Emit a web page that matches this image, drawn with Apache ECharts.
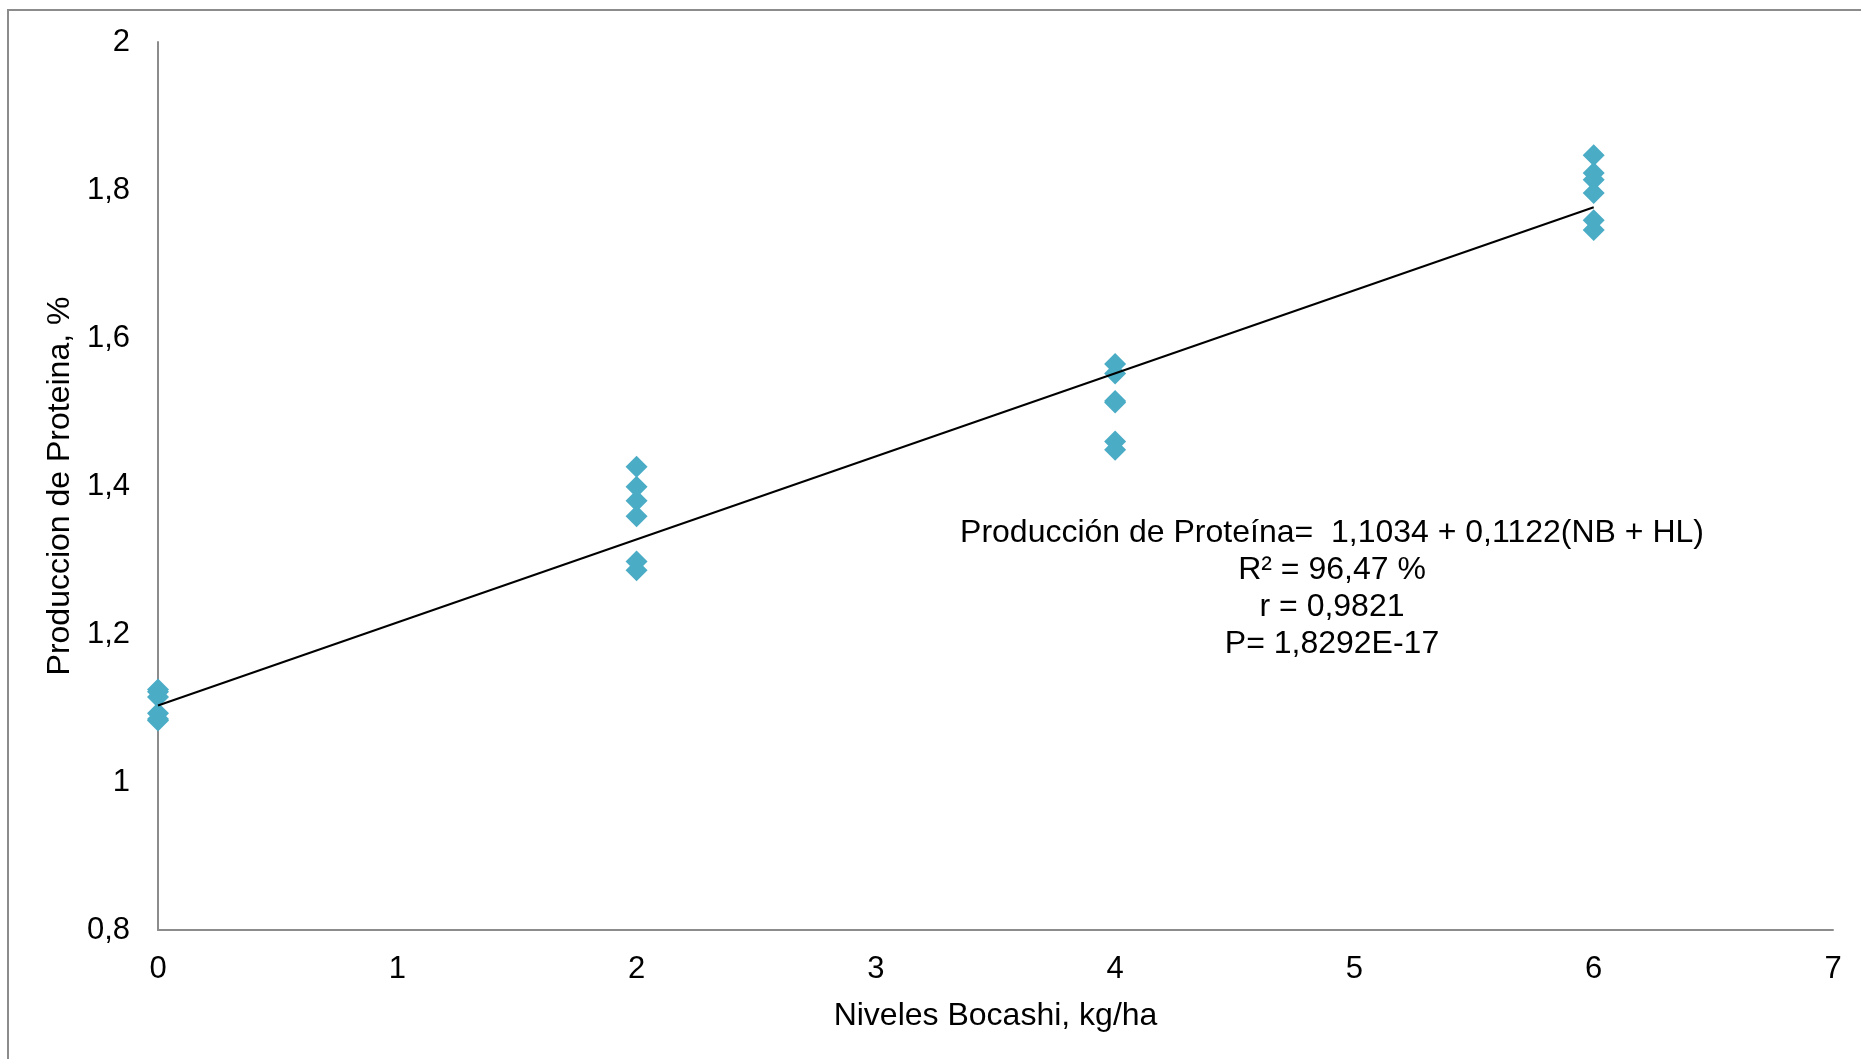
<!DOCTYPE html>
<html>
<head>
<meta charset="utf-8">
<script src="https://cdn.jsdelivr.net/npm/echarts@6/dist/echarts.min.js"></script>
<style>
  html, body { margin: 0; padding: 0; background: #fff; }
  #chart { width: 1861px; height: 1059px; }
</style>
</head>
<body>
<div id="chart"></div>
<script>
// niveles de bocashi y proteina observada
let nivelesX = [0, 0, 0, 0, 0, 0,
	2, 2, 2, 2, 2, 2,
	4, 4, 4, 4, 4, 4,
	6, 6, 6, 6, 6, 6];
let proteinaY = [1.125, 1.122, 1.115, 1.093, 1.085, 1.083,
	1.426, 1.399, 1.380, 1.359, 1.298, 1.286,
	1.565, 1.552, 1.515, 1.513, 1.460, 1.449,
	1.847, 1.823, 1.814, 1.796, 1.759, 1.746];

// recta de regresion
let intercepto = 1.1034;
let pendiente = 0.1122;
let rectaX = [0, 6];

let anotacion = [
	"Producción de Proteína=  1,1034 + 0,1122(NB + HL)",
	"R² = 96,47 %",
	"r = 0,9821",
	"P= 1,8292E-17"
];

let puntos = nivelesX.map(function(x, i) { return [x, proteinaY[i]]; });
let recta = rectaX.map(function(x) { return [x, intercepto + pendiente * x]; });

let fuente = "Liberation Sans, Arial, sans-serif";
let chart = echarts.init(document.getElementById("chart"));

chart.setOption({
	animation: false,
	backgroundColor: "#fff",
	grid: { left: 158, top: 42, right: 28, bottom: 129 },
	xAxis: {
		type: "value",
		min: 0, max: 7, interval: 1,
		name: "Niveles Bocashi, kg/ha",
		nameLocation: "middle",
		nameGap: 70,
		nameTextStyle: { fontFamily: fuente, fontSize: 32, color: "#000" },
		axisLine: { onZero: false, lineStyle: { color: "#8c8c8c", width: 2 } },
		axisTick: { show: false },
		splitLine: { show: false },
		axisLabel: { fontFamily: fuente, fontSize: 31, color: "#000", margin: 24 }
	},
	yAxis: {
		type: "value",
		min: 0.8, max: 2, interval: 0.2,
		name: "Produccion de Proteina, %",
		nameLocation: "middle",
		nameGap: 82,
		nameTextStyle: { fontFamily: fuente, fontSize: 32, color: "#000" },
		axisLine: { show: true, lineStyle: { color: "#8c8c8c", width: 2 } },
		axisTick: { show: false },
		splitLine: { show: false },
		axisLabel: {
			fontFamily: fuente, fontSize: 31, color: "#000", margin: 28,
			formatter: function(v) { return String(Math.round(v * 10) / 10).replace(".", ","); }
		}
	},
	series: [
		{
			type: "scatter",
			data: puntos,
			symbol: "diamond",
			symbolSize: 22,
			itemStyle: { color: "#4bacc6", opacity: 1 },
			z: 2
		},
		{
			type: "line",
			data: recta,
			symbol: "none",
			lineStyle: { color: "#000", width: 2 },
			z: 3
		}
	],
	graphic: [
		{
			type: "rect",
			shape: { x: 8, y: 10, width: 2000, height: 1200 },
			style: { fill: "none", stroke: "#8c8c8c", lineWidth: 2 },
			silent: true
		},
		{
			type: "text",
			x: 1332,
			y: 515,
			style: {
				text: anotacion.join("\n"),
				fontFamily: fuente,
				fontSize: 32,
				lineHeight: 37,
				fill: "#000",
				align: "center",
				verticalAlign: "top"
			}
		}
	]
});
</script>
</body>
</html>
